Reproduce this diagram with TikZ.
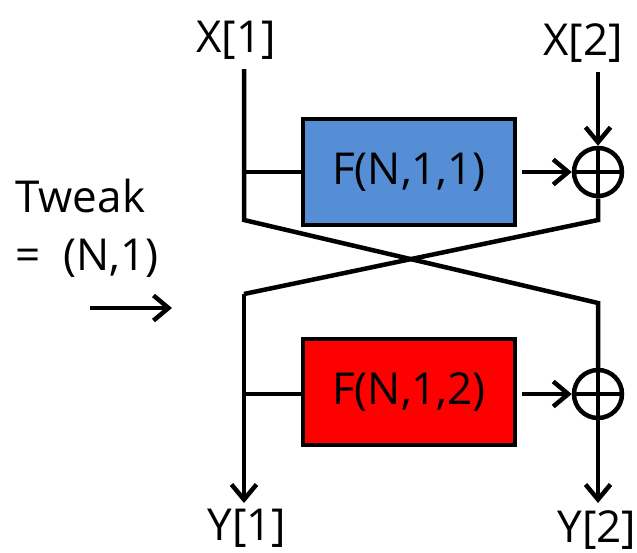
\documentclass[tikz,border=0pt]{standalone}
\usepackage{fontspec}
\setmainfont{Open Sans}
\usetikzlibrary{arrows.meta}
\definecolor{fblue}{HTML}{558ED5}
\definecolor{fred}{HTML}{FF0000}

\begin{document}
\begin{tikzpicture}[x=1pt, y=-1pt, line width=4.5pt,
    arr/.style={-{Straight Barb[length=15pt, width=25pt]}},
    lbl/.style={anchor=base, inner sep=0pt, font=\fontsize{44}{58}\selectfont},
    fbox/.style={draw, line width=4.5pt, minimum width=212pt, minimum height=106pt,
      inner sep=0pt, font=\fontsize{44}{52}\selectfont},
    xor/.style={circle, draw, minimum size=48pt, inner sep=0pt,
      path picture={\draw[line width=4.5pt]
        (path picture bounding box.north) -- (path picture bounding box.south)
        (path picture bounding box.west) -- (path picture bounding box.east);}}]
  \useasboundingbox (0,0) rectangle (637,552);
  % labels
  \node[lbl] (x1) at (236,52) {X[1]};
  \node[lbl] (x2) at (583,55) {X[2]};
  \node[lbl] (y1) at (247,540) {Y[1]};
  \node[lbl] (y2) at (597,542) {Y[2]};
  \node[lbl, anchor=base west, align=left] (tw) at (13,270) {Tweak\\=~~(N,1)};
  % round functions and xors
  \node[fbox, fill=fblue] (f1) at (409,172) {F(N,1,1)};
  \node[fbox, fill=fred] (f2) at (409,392) {F(N,1,2)};
  \node[xor] (p1) at (598,172) {};
  \node[xor] (p2) at (598,394) {};
  % line ends and corners
  \coordinate (a1) at (244,69);
  \coordinate (a2) at (598,72);
  \coordinate (k1) at (244,220);
  \coordinate (k2) at (598,220);
  \coordinate (k3) at (244,294);
  \coordinate (k4) at (598,303);
  \coordinate (j1) at (244,172);
  \coordinate (j2) at (244,394);
  \coordinate (b1) at (244,503);
  \coordinate (b2) at (598,503);
  \coordinate (t1) at (90,308);
  \coordinate (t2) at (172,308);
  % wires
  \draw (a1) -- (k1) -- (k4) -- (p2);
  \draw[arr] (p2) -- (b2);
  \draw[arr] (a2) -- (p1);
  \draw (p1) -- (k2) -- (k3);
  \draw[arr] (k3) -- (b1);
  \draw (j1) -- (f1);
  \draw (j2) -- (f2.west |- j2);
  \draw[arr, shorten <=5pt] (f1) -- (p1);
  \draw[arr, shorten <=5pt] (f2.east |- p2) -- (p2);
  \draw[arr] (t1) -- (t2);
\end{tikzpicture}
\end{document}
